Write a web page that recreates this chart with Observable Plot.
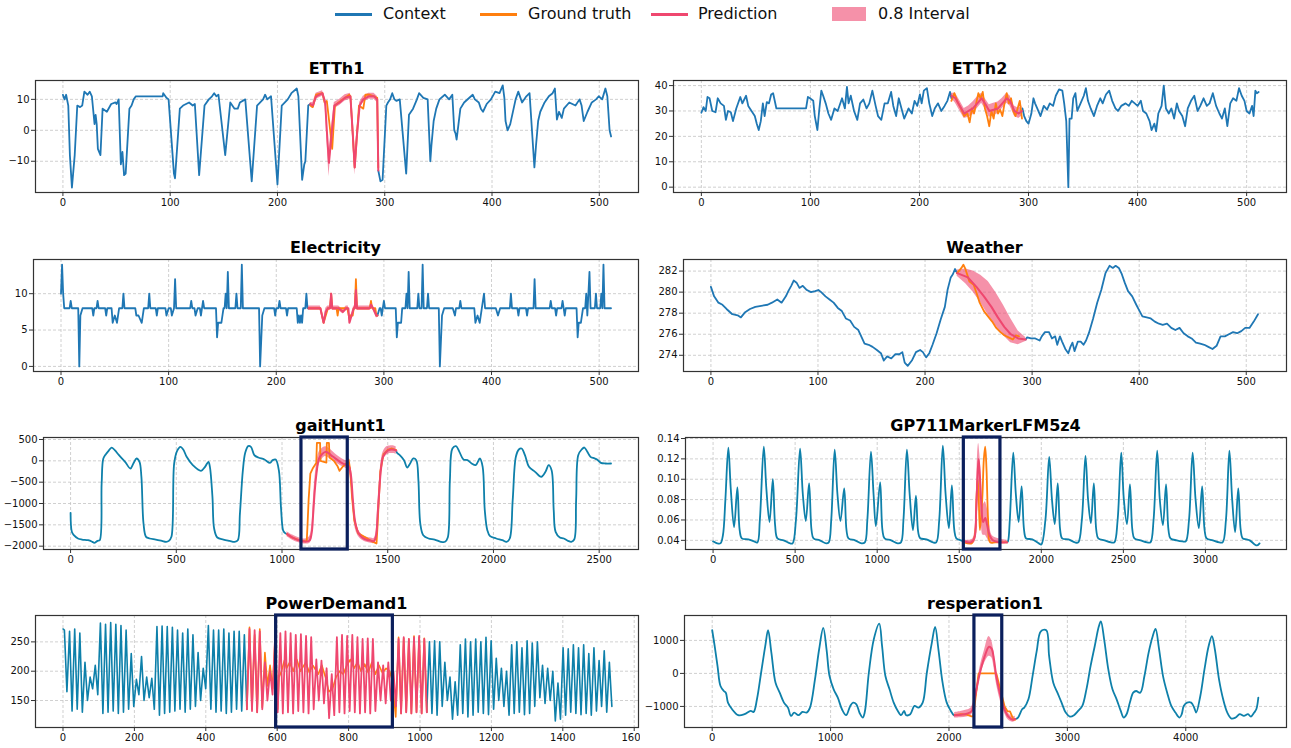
<!DOCTYPE html>
<html><head><meta charset="utf-8">
<script src="https://cdn.jsdelivr.net/npm/d3@7"></script>
<script src="https://cdn.jsdelivr.net/npm/@observablehq/plot@0.6"></script>
<style>
body{margin:0;background:#fff;font-family:"DejaVu Sans",sans-serif;}
#root{position:relative;width:1291px;height:748px;overflow:hidden;background:#fff;}
.title{position:absolute;font-weight:bold;font-size:16px;line-height:20px;color:#000;white-space:nowrap;transform:translateX(-50%);}
.panel{position:absolute;}
.panel svg{max-width:none !important;}
.lg{position:absolute;top:3px;height:22px;font-size:16px;line-height:22px;color:#111;white-space:nowrap;}
.sw{position:absolute;}
</style></head><body><div id="root"></div>
<script>
// ---------------- DATA ----------------
const legendLabels = ["Context", "Ground truth", "Prediction", "0.8 Interval"];

// ETTh1
const etth1ContextA = [[0,11.5],[1.5,10],[3,11.5],[5,8],[6.5,-8],[8.4,-18.5],[11,-8],[13.4,8],[16,7.5],[18,8],[20,12.5],[23,11.5],[25,12.5],[27,11],[29.5,2],[30.5,5],[31.5,2],[32.6,-6],[35,-8],[37,7],[41,6],[45,8.5],[49,9],[50,8.5],[52,10],[54,-11],[55.5,-7],[57,-14.5],[58.5,-14],[62,7],[64,8],[66,10],[68,11],[70,11],[93,11],[93.5,12],[96.5,10.5],[98.5,10],[103.5,-14],[104.5,-15.5],[109,7],[112,8],[117.6,9],[121,8],[123,8.5],[127,-14.5],[132,8],[136,10],[139,11],[141,12],[143,11],[145,11.5],[151.3,-8],[156,9],[160,7],[163,7],[165,9],[170,10],[176,-16.5],[181,8],[186.6,10],[188.5,11.5],[190.5,10],[194,11],[200,-17.5],[204,8],[209.6,10],[213,12],[218,13.5],[219.5,11],[223,-16],[225,-11],[226,-10],[228.7,8],[230.6,8.5]];
const etth1Truth = [[230.6,8],[233,7.5],[236,11.5],[242,12],[244,9],[246,9.5],[248.5,2],[251,-6],[253.6,8],[257,9],[263,10.5],[267,11.5],[268,11],[270,0],[272,-12],[274,-2],[276,8],[280,7],[282,11.5],[286,11.5],[290,11],[293,10.5],[294,-12]];
const etth1Pred = [[230.6,8.5],[233,8],[236,11],[242,12],[244.5,9],[246,0],[248,-10.5],[250,-3],[253,8],[258,9],[263,10.5],[268,11],[270,0],[272,-12],[274,-2],[276.6,8],[280,10],[285,11],[290,11],[293,10],[294,-13]];
const etth1Band = [[230.6,7.8,9],[233,7,9],[236,10,12],[242,11,12.8],[244.5,7.5,10],[246,-3,2],[248,-15,-7],[250,-6,0],[253,7,9],[258,8,10],[263,9.5,11.5],[268,10,12],[270,-2,2],[272,-14.5,-10],[274,-4,0],[276.6,7,9],[280,9,11],[285,10,12],[290,10,12],[293,9,11],[294,-14,-12]];
const etth1ContextB = [[294,-13],[296,-16.5],[298,-16],[301.5,8],[303,9],[305,10],[307,12],[309,10],[311,9.5],[314,10],[320,-14],[322.6,5],[326.4,7],[330,10],[332,12],[336,10.5],[340,10],[342.5,-10],[343.5,-5],[345.6,3],[348,7],[351,10],[356,11.5],[360,10],[363,11.5],[364.8,0],[366,-1],[367,-3],[370.5,7],[374,9],[382,11.5],[384,10],[387.7,9],[389.6,7],[391.6,6],[395,8.5],[399,10],[403,12.5],[407,12],[410,14.5],[411.5,10.5],[412.6,3],[414.5,0],[417,2],[422,10],[424.5,12.5],[428,9],[432,11],[435,12],[439.5,-12],[441,-5],[443,3],[445,6],[449,9],[453,11],[456.5,12],[458.6,13.5],[460.5,3.5],[462.5,6],[465,4],[467,7],[472,9],[477.8,8],[481.6,10],[483.5,8],[485.5,3],[489,6],[493,9],[497,10],[499.5,11],[502.7,10],[505.7,13.5],[507.5,11],[509.6,0],[511,-2]];

// ETTh2
const etth2ContextA = [[0,29.3],[2,31.5],[4,30],[5.6,35.5],[7.5,35],[10,30],[13,29.5],[15,35],[17.7,33],[20.7,32],[22.5,26.5],[24.4,30],[27,29.5],[29,26],[32,31],[35.7,35.5],[37.6,33],[41,36],[43,32],[46,30],[49,28],[50.8,25],[52.6,22.5],[54.5,26],[56.4,33],[58,28],[60,33.5],[62,33],[64,36.5],[65.8,37],[68.8,31],[96,31],[97.7,35.5],[99.6,35],[102.6,34],[104,28],[106.4,22.5],[108,30],[110,38],[111.7,36],[114,33],[116.5,29],[119,26.5],[122,31],[125,30],[129,35],[131.6,31],[133.5,39.5],[135,33],[137,36],[140,30],[143,26.5],[145.5,33],[148.5,34.5],[151.5,31],[154,33],[156.8,38],[159.8,32],[162,28],[165,26.5],[168,33],[171,33],[174,37.5],[176,32],[178.6,28],[181,35],[183.5,31],[186,27],[190,31],[193,29],[195.5,34],[198,32],[200.4,36.5],[202,33],[204,38],[206.8,39],[209,33],[211.7,28],[214,31],[217,33],[220,30],[223,32],[225.6,34],[228,37.5],[229.3,35]];
const etth2Truth = [[229.3,34],[232,37],[235,33.5],[238,31],[241,28],[244,29],[246,25.5],[248,31],[250,29],[252,33],[254,37],[256,35],[258,37.5],[260,31],[262,28],[264,24],[266,30],[268,27],[270,33],[272,29],[274,30.5],[276,28],[278,33],[280,37],[282,33],[284,35],[286,30],[288,28],[290,31],[292,34],[294,27]];
const etth2Pred = [[229.3,36],[233,35],[237,32],[241,29],[245,30],[249,31],[253,33],[257,35],[260,33],[264,30],[268,30.5],[272,31],[276,33],[280,35],[283,34],[287,30],[291,29],[294,30]];
const etth2Band = [[229.3,35,37],[233,33,37],[237,30,34],[241,27,31],[245,27.5,32],[249,28.5,33.5],[253,31,35.5],[257,33,37],[260,31,35],[264,27.5,32.5],[268,28,33],[272,29,33.5],[276,31,35],[280,33,37],[283,32,36],[287,28,32],[291,27,31],[294,28,32]];
const etth2ContextB = [[294.4,31],[296,28],[298,26],[300,25],[302.6,29],[304.5,35],[306,33],[308,31],[311,28],[314,32],[317,30.5],[319.5,33],[322.5,32],[325,36],[328,38.5],[331,38],[332.7,33],[334.6,26],[336.5,0],[337.6,27],[339.5,27],[341,35],[343,37],[344.7,30],[347.7,33],[350.7,36],[352.6,39],[354.5,34],[357,31],[360,28],[362.8,32],[365.8,35],[368,33],[371,36.5],[374,38],[376.7,34],[379.7,31],[382,30],[385,32],[389,33],[392,32],[394.7,34],[397.4,33],[400,32],[403,34],[405,30],[408,29],[411,26],[412.8,22.5],[415.4,25],[417,22],[419,29],[422,32],[424,40],[426,31],[428.6,29],[431,31],[433.5,27],[436,33],[438,30],[441,28],[443.6,24],[446,31],[449,34],[452,36],[455,30],[457.5,32],[460.5,35],[463.5,32],[466,33],[469,37],[472,32],[475,29],[477.4,27],[480,31],[482.3,24],[485,33],[487.6,35],[490.6,34],[493,39],[495.5,36],[498,34],[500,30],[502.6,29],[505,32],[506.4,28],[508,38],[509.4,37],[511,37.5]];

// Electricity
const elecContextA = [[0,10],[1,14],[2,10],[3,8],[8,8],[9,9],[10,8],[16,8],[17,0],[18,7],[20,8],[29,8],[30,7],[31,8],[33,8],[34,9],[35,8],[41,8],[42,7],[43,8],[47,8],[48,6],[50,7],[52,6],[54,8],[57,8],[58,10],[59,8],[69,8],[70,7],[72,7],[75,6],[77,8],[81,8],[82,10],[83,8],[88,8],[89,7],[90,8],[97,8],[98,7],[100,8],[102,8],[103,7],[105,8],[106,12],[107,8],[120,8],[121,9],[122,8],[124,8],[125,7],[127,8],[129,8],[130,7],[131,8],[132,9],[133,8],[144,8],[145,4],[146,6],[149,6],[151,8],[152,8],[153,10],[154,8],[155,13],[156,8],[162,8],[163,10],[164,8],[167,8],[168,14],[169,8],[184,8],[185,0],[187,7],[189,8],[198,8],[199,7],[200,8],[202,8],[203,9],[204,8],[209,8],[210,7],[211,8],[219,8],[220,6],[221,7],[222,6],[223,7],[224,6],[225,8],[227,8],[228,10],[229,8],[230,8]];
const elecTruth = [[230,8],[241,8],[244,6],[246,7],[248,8],[250,8],[251,10],[252,8],[256,8],[257,7],[258,8],[266,8],[268,6.5],[269,7],[271,7],[272,8],[273,8],[274,12],[275,8],[287,8],[288,9],[289,8],[292,8],[293,7],[294,7]];
const elecPred = [[230,8],[241,8],[244,6],[246,7.5],[248,8],[250,8],[251,10],[252,8],[258,8],[262,7.5],[265,8],[267,8],[268,6],[270,7],[272,8],[273,8],[274,10.5],[275,8],[287,8],[288,8.5],[290,8],[293,7],[294,7]];
const elecBand = [[230,7.7,8.3],[241,7.7,8.3],[244,5.8,6.5],[246,7,8],[248,7.7,8.3],[250,7.7,8.3],[251,9.5,10.3],[252,7.7,8.3],[258,7.7,8.3],[262,7.2,7.8],[265,7.7,8.3],[267,7.7,8.3],[268,5.8,6.5],[270,6.7,7.3],[272,7.7,8.3],[273,7.7,8.3],[274,9.8,11.5],[275,7.7,8.3],[287,7.7,8.3],[288,8.2,8.8],[290,7.7,8.3],[293,6.7,7.3],[294,6.7,7.3]];
const elecContextB = [[294,7],[296,8],[297,8],[298,7],[299,8],[300,9],[301,8],[311,8],[312,4],[313,6],[316,6],[317,8],[320,8],[321,10],[322,8],[323,13],[324,8],[331,8],[332,10],[333,8],[335,8],[336,14],[337,8],[340,8],[341,10],[342,8],[351,8],[352,0],[354,7],[356,8],[364,8],[366,7],[367,8],[370,8],[371,9],[372,8],[384,8],[385,6],[387,7],[389,6],[391,8],[393,10],[394,8],[404,8],[406,7],[408,8],[417,8],[418,10],[419,8],[424,8],[425,7],[426,8],[432,8],[433,7],[434,8],[439,8],[440,12],[441,8],[454,8],[455,9],[456,8],[459,8],[460,7],[461,8],[465,8],[466,9],[467,8],[468,7],[469,8],[479,8],[480,4],[481,6],[483,6],[485,8],[487,8],[488,10],[489,7],[490,10],[491,13],[492,8],[496,8],[497,10],[498,8],[501,8],[502,10],[503,8],[504,14],[505,8],[511,8]];

// Weather
const weatherContextA = [[0,280.5],[3,279.6],[7,279],[10.8,278.8],[14.6,278.4],[20,277.9],[25,277.8],[28,277.6],[32,278.1],[36.5,278.4],[41.5,278.6],[47,278.7],[53,278.8],[57,279],[62,279.3],[66,279],[70,279.6],[72.3,280.1],[75,280.6],[77.3,281.1],[80,280.9],[82.7,280.4],[85.8,280.6],[89.6,280.2],[93.5,280],[97.3,280.1],[100.4,280.2],[103,280],[107,279.6],[110.8,279.3],[114.6,279],[118.5,278.5],[122.3,278.2],[126,277.5],[130,277.3],[133.8,276.7],[137.7,276.4],[140.4,275.8],[143.5,275.1],[147.3,275],[151,274.8],[155,274.5],[158.8,274.2],[161.5,273.5],[164.6,273.9],[168.5,273.7],[172.3,274.1],[176,274.1],[178.8,274.3],[181,273.3],[183.8,273],[187.7,273.5],[191.5,274.3],[195.4,274.5],[198,274.3],[201,273.8],[204,274.2],[207,275],[210.8,276.1],[214.6,277.4],[218.5,278.6],[221,280.2],[224,281.4],[226,281.7],[228,282.2],[230,281.8]];
const weatherTruth = [[230,281.8],[234,282.3],[235.8,282.6],[237.7,282.2],[241.5,281],[245.4,280.7],[248.5,279.8],[251,279],[255,278.2],[258.8,277.7],[262.7,277.2],[266.5,276.6],[270.4,276.2],[274,275.9],[278,275.7],[282,275.5],[285,275.9],[287.7,275.8]];
const weatherPred = [[230,281.8],[240,281.4],[248,280.5],[255,279.6],[262,278.6],[268,277.6],[274,276.7],[280,276],[287,275.6],[294,275.5]];
const weatherBand = [[230,281.5,282.1],[238,280.8,282.2],[245,280,282],[252,279,281.6],[259,277.8,281],[266,276.8,280],[273,275.9,278.8],[280,275.2,277.5],[287,275,276.3],[294,275.3,275.7]];
const weatherContextB = [[294,275.5],[295.4,275.7],[299,275.6],[303,275.6],[307,275.4],[309,275.8],[312,276.2],[315.8,276.2],[318.5,275.6],[321.5,275.8],[323.5,275],[326,275.8],[328,275.3],[331,274.6],[333.8,274.2],[335.8,274.8],[337.7,275.2],[339.6,274.4],[342.7,275.3],[345.4,275.3],[348,275],[350.4,275.4],[353,276.1],[357,277.5],[360.8,279],[364.6,280.2],[368.5,281.8],[372.3,282.5],[375.4,282.3],[378,282.5],[381,282.3],[383.8,281.7],[386.5,280.9],[389.6,280.1],[393.5,279.6],[397.3,278.8],[400.4,278.2],[403,277.7],[407,277.6],[410.8,277.5],[414.6,277.2],[418.5,277],[422,276.9],[426,277],[430,276.6],[433.8,276.4],[437.7,276.6],[441.5,276.1],[445.4,275.8],[449,275.6],[453,275.2],[457,275.1],[460.8,275],[464.6,274.8],[468.5,274.6],[472.3,274.9],[476,275.8],[480,275.8],[483.8,276],[487.7,276.2],[491.5,276.1],[495.4,276.3],[499,276.6],[503,276.6],[507,277.2],[511,277.9]];

// gaitHunt1
const gaitContextA = [[0,-1219],[6,-1664],[15.5,-1742],[35,-1820],[54,-1844],[83,-1860],[103,-1898],[112,-1922],[128,-1875],[138,-1860],[147,-531],[155,55],[167,156],[180,234],[194,312],[209,250],[229,133],[258,-23],[283,-180],[297,-62],[312,55],[326,-23],[335,-375],[345,-1469],[357,-1781],[374,-1820],[403,-1844],[432,-1875],[452,-1898],[465,-1875],[477,-1781],[490,-62],[504,234],[520,328],[533,266],[549,94],[578,-101],[617,-234],[636,-141],[652,-23],[659,-141],[671,-844],[679,-1586],[694,-1797],[723,-1844],[752,-1875],[776,-1898],[791,-1860],[801,-1234],[815,-219],[826,188],[840,344],[853,328],[869,133],[888,78],[917,31],[943,-47],[956,16],[970,31],[985,-219],[995,-1078],[1005,-1625],[1012,-1680],[1024,-1719]];
const gaitTruth = [[1024,-1719],[1050,-1800],[1080,-1860],[1110,-1890],[1117,-1880],[1121,-1469],[1126,-900],[1134,-300],[1145,-180],[1158,-80],[1162,-50],[1165,420],[1180,420],[1182,0],[1210,-40],[1212,420],[1222,420],[1225,80],[1245,0],[1262,-120],[1272,-234],[1285,-150],[1295,-100],[1305,-60],[1315,30],[1322,-200],[1332,-900],[1342,-1400],[1360,-1700],[1400,-1810],[1430,-1900],[1447,-1937],[1452,-1500],[1458,-900],[1465,-250],[1480,150],[1500,260],[1520,290],[1540,250]];
const gaitPred = [[1024,-1719],[1050,-1800],[1080,-1860],[1110,-1890],[1130,-1870],[1140,-1700],[1148,-1200],[1155,-700],[1163,-300],[1175,50],[1190,160],[1205,210],[1220,180],[1240,100],[1260,30],[1280,-40],[1300,-90],[1315,-120],[1325,-300],[1335,-900],[1345,-1400],[1360,-1680],[1380,-1800],[1400,-1850],[1420,-1870],[1435,-1880],[1445,-1750],[1452,-1300],[1460,-700],[1468,-200],[1478,100],[1495,220],[1510,260],[1530,260],[1540,240]];
const gaitBand = [[1024,-1780,-1660],[1050,-1860,-1740],[1080,-1920,-1800],[1110,-1950,-1830],[1130,-1940,-1780],[1140,-1850,-1550],[1148,-1450,-950],[1155,-950,-450],[1163,-500,-100],[1175,-100,200],[1190,40,290],[1205,100,330],[1220,70,300],[1240,0,220],[1260,-60,130],[1280,-120,60],[1300,-170,10],[1315,-220,-20],[1325,-450,-150],[1335,-1050,-750],[1345,-1550,-1250],[1360,-1760,-1600],[1380,-1860,-1740],[1400,-1910,-1790],[1420,-1930,-1810],[1435,-1940,-1820],[1445,-1850,-1650],[1452,-1500,-1100],[1460,-900,-500],[1468,-350,-50],[1478,0,200],[1495,130,330],[1510,170,350],[1530,170,350],[1540,150,330]];
const gaitContextB = [[1540,240],[1544,188],[1557,133],[1577,16],[1592,-156],[1606,-62],[1621,55],[1635,16],[1645,-453],[1654,-1469],[1668,-1742],[1693,-1820],[1722,-1844],[1751,-1898],[1771,-1898],[1784,-1797],[1794,-453],[1806,289],[1823,344],[1839,211],[1858,31],[1877,16],[1897,-62],[1916,-101],[1936,55],[1949,-141],[1959,-1156],[1971,-1625],[1984,-1766],[2013,-1820],[2042,-1860],[2062,-1898],[2077,-1820],[2091,-922],[2106,94],[2120,266],[2133,289],[2149,133],[2168,-141],[2197,-258],[2226,-375],[2246,-258],[2261,-101],[2275,-219],[2285,-1156],[2294,-1664],[2314,-1797],[2333,-1820],[2353,-1875],[2368,-1898],[2382,-1844],[2391,-922],[2401,133],[2417,266],[2430,312],[2444,211],[2459,94],[2479,55],[2494,16],[2508,-47],[2530,-62],[2556,-62]];
const gaitBox = [1092, 1311];

// GP711MarkerLFM5z4
const gpContextA = [[0,0.039],[25,0.037],[45,0.037],[60,0.045],[75,0.08],[93,0.131],[108,0.09],[128,0.053],[148,0.092],[162,0.05],[175,0.042],[215,0.041],[250,0.039],[270,0.038],[285,0.06],[309,0.132],[325,0.09],[344,0.058],[364,0.100],[378,0.055],[392,0.042],[430,0.040],[470,0.037],[485,0.037],[505,0.06],[530,0.130],[547,0.085],[565,0.059],[585,0.096],[600,0.05],[612,0.042],[650,0.040],[690,0.037],[705,0.038],[720,0.06],[741,0.129],[758,0.085],[776,0.059],[799,0.091],[813,0.05],[825,0.042],[865,0.040],[905,0.037],[925,0.038],[940,0.06],[962,0.127],[978,0.085],[992,0.054],[1018,0.097],[1032,0.05],[1045,0.042],[1085,0.040],[1125,0.037],[1145,0.038],[1160,0.06],[1181,0.129],[1198,0.085],[1218,0.050],[1236,0.084],[1250,0.048],[1262,0.042],[1300,0.041],[1340,0.038],[1360,0.038],[1378,0.06],[1400,0.133],[1417,0.085],[1437,0.052],[1455,0.094],[1470,0.05],[1482,0.042],[1510,0.040],[1530,0.039]];
const gpTruth = [[1530,0.038],[1575,0.037],[1595,0.045],[1605,0.08],[1612,0.1],[1618,0.085],[1626,0.05],[1640,0.08],[1650,0.12],[1658,0.132],[1666,0.11],[1676,0.06],[1688,0.038],[1720,0.038],[1791,0.038]];
const gpPred = [[1530,0.039],[1570,0.038],[1592,0.042],[1603,0.07],[1612,0.105],[1618,0.12],[1625,0.105],[1635,0.075],[1645,0.058],[1658,0.062],[1670,0.055],[1685,0.045],[1705,0.040],[1740,0.038],[1791,0.038]];
const gpBand = [[1530,0.037,0.040],[1580,0.036,0.041],[1595,0.038,0.05],[1605,0.05,0.09],[1612,0.07,0.125],[1618,0.09,0.135],[1625,0.08,0.125],[1635,0.055,0.10],[1645,0.045,0.075],[1658,0.045,0.078],[1670,0.042,0.072],[1685,0.038,0.055],[1705,0.037,0.044],[1791,0.037,0.040]];
const gpContextB = [[1791,0.038],[1797,0.039],[1808,0.06],[1829,0.126],[1845,0.085],[1862,0.058],[1880,0.093],[1895,0.05],[1907,0.042],[1945,0.041],[1985,0.037],[2000,0.036],[2025,0.06],[2048,0.122],[2065,0.08],[2082,0.056],[2100,0.096],[2115,0.05],[2127,0.042],[2165,0.041],[2205,0.038],[2225,0.038],[2247,0.06],[2269,0.123],[2285,0.08],[2302,0.057],[2320,0.096],[2335,0.05],[2347,0.042],[2385,0.040],[2425,0.038],[2445,0.038],[2465,0.06],[2487,0.126],[2503,0.08],[2522,0.056],[2540,0.095],[2555,0.05],[2567,0.042],[2605,0.040],[2645,0.038],[2665,0.038],[2684,0.06],[2706,0.128],[2722,0.08],[2741,0.055],[2760,0.095],[2775,0.05],[2787,0.042],[2825,0.040],[2860,0.039],[2880,0.039],[2900,0.06],[2922,0.126],[2940,0.08],[2960,0.052],[2980,0.093],[2995,0.05],[3007,0.042],[3045,0.040],[3085,0.038],[3105,0.038],[3125,0.06],[3146,0.128],[3163,0.08],[3181,0.048],[3200,0.091],[3215,0.05],[3227,0.042],[3250,0.041],[3270,0.040],[3300,0.036],[3315,0.035],[3330,0.037]];
const gpBox = [1528, 1751];

// PowerDemand1 (daily peaks and troughs, one value per day)
const pdDay = 14.4;
const pdPeaksA = [270,268,272,265,215,190,210,282,280,283,280,278,270,230,186,225,190,188,276,277,276,275,270,265,272,262,232,205,278,270,270,272,265,268,268,262];
const pdTroughsA = [165,132,135,130,150,170,160,128,130,132,128,130,135,140,160,150,155,135,125,128,130,132,135,130,135,140,150,170,135,130,132,128,130,135,132,135];
const pdPeaksPred = [272,270,268,215,200,262,265,268,265,262,263,260,258,220,218,205,195,258,262,260,262,258,255,256,255,215,210,215,200,255,258,255,258,260,255];
const pdTroughsPred = [132,130,135,150,160,130,128,130,128,132,130,128,135,150,145,120,125,130,128,132,130,128,130,128,132,150,145,150,140,128,130,128,130,128,130];
const pdPeaksTruthPre = [275,262,272,232,210,258];
const pdTroughsTruthPre = [135,130,138,175,170,135];
const pdTruthBox = [[605,190],[612,200],[620,218],[626,205],[635,215],[645,200],[655,220],[665,200],[680,215],[690,198],[700,210],[715,195],[725,210],[735,190],[745,165],[755,170],[765,190],[775,200],[785,195],[795,210],[805,220],[815,205],[825,215],[835,200],[845,212],[855,198],[865,215],[875,195],[885,210],[895,197],[905,205],[915,200],[922,185],[932,122]];
const pdPeaksTruthPost = [258,256,255,260,258,256];
const pdTroughsTruthPost = [128,130,128,130,128,130];
const pdPeaksB = [250,252,250,215,190,182,245,255,250,255,250,258,252,222,205,200,245,250,240,252,248,250,210,205,200,180,240,238,245,240,245,230,240,218,235,215];
const pdTroughsB = [128,125,140,150,118,125,128,122,125,130,128,126,135,150,140,125,128,130,126,128,140,155,145,150,115,118,125,130,128,126,128,125,132,140,130,140];
const pdBox = [597, 924];

// resperation1
const respContextA = [[0,1307],[21,824],[45,221],[70,-382],[98,-533],[115,-583],[133,-884],[168,-1085],[220,-1266],[273,-1236],[325,-1136],[350,-1166],[378,-784],[413,20],[448,824],[472,1307],[500,623],[535,-281],[570,-583],[606,-884],[640,-1035],[665,-1286],[693,-1186],[728,-1266],[763,-1166],[798,-1186],[826,-1035],[868,-181],[903,724],[938,1377],[966,724],[991,-80],[1026,-482],[1061,-734],[1096,-1085],[1131,-1266],[1166,-985],[1190,-884],[1218,-935],[1246,-1206],[1271,-1337],[1288,-1186],[1323,20],[1365,1035],[1411,1508],[1435,824],[1463,-80],[1498,-482],[1533,-884],[1568,-1136],[1596,-1266],[1621,-1136],[1638,-1266],[1673,-1236],[1708,-985],[1743,-1035],[1778,-884],[1813,20],[1855,925],[1883,1407],[1911,724],[1946,-281],[1981,-884],[2016,-1136],[2041,-1266],[2048,-1270]];
const respTruth = [[2048,-1260],[2100,-1230],[2150,-1250],[2190,-1300],[2205,-1300],[2250,0],[2400,0],[2470,-1000],[2495,-1150],[2515,-1150],[2545,-1400],[2560,-1400]];
const respPred = [[2048,-1270],[2100,-1250],[2150,-1220],[2190,-1150],[2220,-700],[2260,0],[2300,500],[2338,810],[2360,750],[2380,420],[2400,-100],[2430,-600],[2460,-1000],[2500,-1300],[2540,-1400],[2560,-1380]];
const respBand = [[2048,-1350,-1180],[2100,-1340,-1150],[2150,-1320,-1110],[2190,-1260,-1030],[2220,-850,-550],[2233,-720,-440],[2260,-150,150],[2300,300,700],[2338,520,1120],[2360,480,1000],[2380,180,650],[2400,-300,100],[2430,-780,-420],[2460,-1120,-880],[2500,-1400,-1200],[2540,-1480,-1320],[2560,-1460,-1300]];
const respContextB = [[2559,-1387],[2583,-1337],[2618,-1085],[2636,-1035],[2671,-784],[2706,-80],[2741,673],[2776,1276],[2822,1307],[2846,522],[2881,-281],[2916,-583],[2951,-884],[2986,-1186],[3021,-1307],[3056,-1266],[3091,-1136],[3126,-985],[3161,-482],[3196,221],[3231,824],[3266,1427],[3283,1578],[3311,1025],[3346,121],[3381,-482],[3416,-784],[3451,-1136],[3476,-1337],[3500,-1236],[3528,-884],[3556,-583],[3581,-533],[3616,-583],[3651,-80],[3686,623],[3721,1126],[3745,1347],[3773,774],[3808,-80],[3843,-583],[3878,-985],[3913,-1186],[3948,-1337],[3966,-1236],[3983,-985],[4011,-884],[4046,-884],[4071,-1035],[4088,-1186],[4123,-683],[4158,121],[4193,824],[4221,1126],[4246,724],[4281,-181],[4316,-784],[4351,-1186],[4386,-1367],[4421,-1337],[4456,-1236],[4491,-1286],[4526,-1236],[4550,-1307],[4578,-1186],[4596,-1085],[4613,-734]];
const respBox = [2215, 2450];

// tick values
const ticks512 = [0,100,200,300,400,500];
const ticksGait = [0,500,1000,1500,2000,2500];
const ticksGP = [0,500,1000,1500,2000,2500,3000];
const ticksPD = [0,200,400,600,800,1000,1200,1400,1600];
const ticksResp = [0,1000,2000,3000,4000];

// ---------------- helpers ----------------
function dayLine(startDay, peaks, troughs) {
  const pts = [];
  peaks.forEach((p, i) => {
    const d = startDay + i;
    pts.push([d * pdDay + 4, p]);
    pts.push([d * pdDay + 11, troughs[i]]);
  });
  return pts;
}
const pdContextA = [[0, 272], ...dayLine(0, pdPeaksA, pdTroughsA)];
const pdPred = [pdContextA[pdContextA.length - 1], ...dayLine(36, pdPeaksPred, pdTroughsPred)];
const pdTruth = [pdContextA[pdContextA.length - 1], ...dayLine(36, pdPeaksTruthPre, pdTroughsTruthPre), ...pdTruthBox, ...dayLine(65, pdPeaksTruthPost, pdTroughsTruthPost)];
const pdContextB = [pdPred[pdPred.length - 1], ...dayLine(71, pdPeaksB, pdTroughsB)];

// ---------------- STYLE / LAYOUT ----------------
const C_TOP = "#1f77b4", C_BOT = "#0e80aa", C_GT = "#ff7f0e", C_PRED = "#ef476f", C_BOX = "#0b1f5c";
const ROW_TOP = [80, 259, 437, 615], FH = 112;
const fmtNum = d => (d < 0 ? "\u2212" + Math.abs(d) : String(d));

const panels = [
  {title:"ETTh1", row:0, left:35, right:638, xd:[-25.55,536.55], yd:[-20.1,16.1], xt:ticks512, yt:[-10,0,10], ctx:[etth1ContextA, etth1ContextB], gt:etth1Truth, pr:etth1Pred, band:etth1Band, c:C_TOP},
  {title:"ETTh2", row:0, left:673, right:1286, xd:[-25.55,536.55], yd:[-2.1,42], xt:ticks512, yt:[0,10,20,30,40], ctx:[etth2ContextA, etth2ContextB], gt:etth2Truth, pr:etth2Pred, band:etth2Band, c:C_TOP},
  {title:"Electricity", row:1, left:33, right:638, xd:[-25.55,536.55], yd:[-0.7,14.7], xt:ticks512, yt:[0,5,10], ctx:[elecContextA, elecContextB], gt:elecTruth, pr:elecPred, band:elecBand, c:C_TOP},
  {title:"Weather", row:1, left:683, right:1286, xd:[-25.6,537.6], yd:[272.46,283.1], xt:ticks512, yt:[274,276,278,280,282], ctx:[weatherContextA, weatherContextB], gt:weatherTruth, pr:weatherPred, band:weatherBand, c:C_TOP},
  {title:"gaitHunt1", row:2, left:43, right:638, xd:[-128,2686], yd:[-2078,547], xt:ticksGait, yt:[-2000,-1500,-1000,-500,0,500], ctx:[gaitContextA, gaitContextB], gt:gaitTruth, pr:gaitPred, band:gaitBand, c:C_BOT, box:gaitBox, curve:"catmull-rom", gtCurve:"linear"},
  {title:"GP711MarkerLFM5z4", row:2, left:685, right:1286, xd:[-168,3494], yd:[0.031,0.141], xt:ticksGP, yt:[0.04,0.06,0.08,0.10,0.12,0.14], yf:d=>d.toFixed(2), ctx:[gpContextA, gpContextB], gt:gpTruth, pr:gpPred, band:gpBand, c:C_BOT, box:gpBox, curve:"catmull-rom"},
  {title:"PowerDemand1", row:3, left:35, right:638, xd:[-77,1612], yd:[104,295], xt:ticksPD, yt:[150,200,250], ctx:[pdContextA, pdContextB], gt:pdTruth, pr:pdPred, band:null, c:C_BOT, box:pdBox, clip:true, sw:1.6},
  {title:"resperation1", row:3, left:684, right:1286, xd:[-234,4851], yd:[-1638,1754], xt:ticksResp, yt:[-1000,0,1000], ctx:[respContextA, respContextB], gt:respTruth, pr:respPred, band:respBand, c:C_BOT, box:respBox, curve:"catmull-rom", gtCurve:"linear"}
];

const root = document.getElementById("root");
const ML = 52, MR = 12, MT = 6, MB = 24;

// legend
const lgItems = [
  {x:335, tx:383, type:"line", color:C_TOP},
  {x:480, tx:528, type:"line", color:C_GT},
  {x:651, tx:698, type:"line", color:C_PRED},
  {x:832, tx:878, type:"patch", color:C_PRED}
];
lgItems.forEach((it, i) => {
  const sw = document.createElement("div");
  sw.className = "sw";
  if (it.type === "line") {
    Object.assign(sw.style, {left: it.x + "px", top: "13px", width: "37px", height: "3px", background: it.color});
  } else {
    Object.assign(sw.style, {left: it.x + "px", top: "7px", width: "34px", height: "14px", background: it.color, opacity: 0.6});
  }
  root.appendChild(sw);
  const t = document.createElement("div");
  t.className = "lg";
  t.style.left = it.tx + "px";
  t.textContent = legendLabels[i];
  root.appendChild(t);
});

const XY = {x: d => d[0], y: d => d[1]};
panels.forEach(p => {
  const top = ROW_TOP[p.row];
  const fw = p.right - p.left;
  const curve = p.curve || "linear";
  const lw = p.sw || 1.8;
  const grid = {stroke: "#c4c4c4", strokeDasharray: "3,2", strokeWidth: 0.8, strokeOpacity: 1};
  const marks = [
    Plot.gridX(p.xt, grid),
    Plot.gridY(p.yt, grid)
  ];
  p.ctx.forEach(seg => marks.push(Plot.line(seg, {...XY, stroke: p.c, strokeWidth: lw, curve})));
  if (p.band) marks.push(Plot.areaY(p.band, {x: d => d[0], y1: d => d[1], y2: d => d[2], fill: C_PRED, fillOpacity: 0.6, curve}));
  marks.push(Plot.line(p.gt, {...XY, stroke: C_GT, strokeWidth: lw, curve: p.gtCurve || curve}));
  marks.push(Plot.line(p.pr, {...XY, stroke: C_PRED, strokeWidth: lw + 0.2, curve}));
  marks.push(Plot.frame({stroke: "#333", strokeWidth: 1.2}));
  if (p.box) marks.push(Plot.rect([p.box], {x1: d => d[0], x2: d => d[1], y1: () => p.yd[0], y2: () => p.yd[1], fill: "none", stroke: C_BOX, strokeWidth: 3.2}));
  marks.push(Plot.axisX(p.xt, {tickSize: 4, tickPadding: 2, fontSize: 10, label: null, tickFormat: fmtNum, stroke: "#333"}));
  marks.push(Plot.axisY(p.yt, {tickSize: 4, tickPadding: 2, fontSize: 10, label: null, tickFormat: p.yf || fmtNum, stroke: "#333"}));

  const svg = Plot.plot({
    width: fw + ML + MR, height: FH + MT + MB,
    marginLeft: ML, marginRight: MR, marginTop: MT, marginBottom: MB,
    x: {domain: p.xd, label: null},
    y: {domain: p.yd, label: null},
    style: {background: "transparent", fontFamily: "DejaVu Sans, sans-serif", fontSize: "10px", color: "#111", overflow: "visible", maxWidth: "none"},
    marks
  });
  const wrap = document.createElement("div");
  wrap.className = "panel";
  wrap.style.left = (p.left - ML) + "px";
  wrap.style.top = (top - MT) + "px";
  if (p.clip) {
    wrap.style.width = (ML + fw + 2) + "px";
    wrap.style.height = (FH + MT + MB) + "px";
    wrap.style.overflow = "hidden";
  }
  wrap.appendChild(svg);
  root.appendChild(wrap);

  const t = document.createElement("div");
  t.className = "title";
  t.style.left = ((p.left + p.right) / 2) + "px";
  t.style.top = (top - 21) + "px";
  t.textContent = p.title;
  root.appendChild(t);
});
</script></body></html>
